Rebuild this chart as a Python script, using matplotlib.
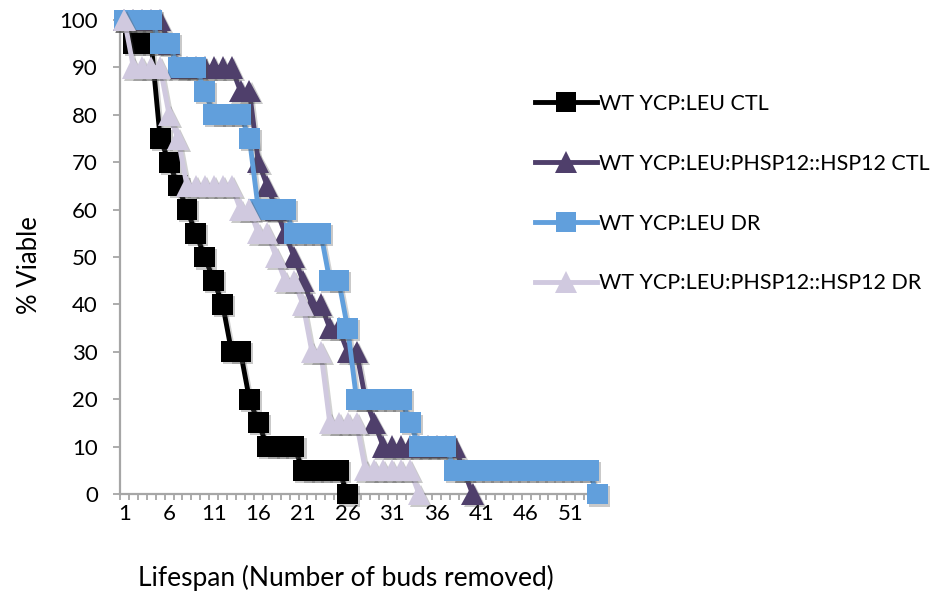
import matplotlib.pyplot as plt
import matplotlib.patheffects as pe
from matplotlib.lines import Line2D
import numpy as np

plt.rcParams['font.family'] = ['Lato', 'DejaVu Sans']

# % viable cells per bud count (one value per category, series end where they hit 0)
wt_ctl = [100, 95, 95, 95, 75, 70, 65, 60, 55, 50, 45, 40, 30, 30, 20, 15, 10, 10, 10, 10,
          5, 5, 5, 5, 5, 0]
hsp12_ctl = [100, 100, 100, 100, 100, 95, 90, 90, 90, 90, 90, 90, 90, 85, 85, 70, 65, 60, 55, 50,
             45, 40, 40, 35, 35, 30, 30, 20, 15, 10, 10, 10, 10, 10, 10, 10, 10, 10, 5, 0]
wt_dr = [100, 100, 100, 100, 95, 95, 90, 90, 90, 85, 80, 80, 80, 80, 75, 60, 60, 60, 60, 55,
         55, 55, 55, 45, 45, 35, 20, 20, 20, 20, 20, 20, 15, 10, 10, 10, 10, 5, 5, 5,
         5, 5, 5, 5, 5, 5, 5, 5, 5, 5, 5, 5, 5, 0]
hsp12_dr = [100, 90, 90, 90, 90, 80, 75, 65, 65, 65, 65, 65, 65, 60, 60, 55, 55, 50, 45, 45,
            40, 30, 30, 15, 15, 15, 15, 5, 5, 5, 5, 5, 5, 0]

labels = ["WT YCP:LEU CTL", "WT YCP:LEU:PHSP12::HSP12 CTL",
          "WT YCP:LEU DR", "WT YCP:LEU:PHSP12::HSP12 DR"]
colors = ["#000000", "#4F3F6B", "#619FDC", "#D0C9DF"]
markers = ["s", "^", "s", "^"]
n_cat = 54

fig = plt.figure(figsize=(9.51, 5.96), dpi=100)
ax = fig.add_axes([120 / 951, 1 - 494 / 596, 482 / 951, 474 / 596])

line_shadow = [pe.SimpleLineShadow(offset=(1.5, -1.5), shadow_color='0.3', alpha=0.25), pe.Normal()]
mark_shadow = [pe.SimplePatchShadow(offset=(1.5, -1.5), shadow_rgbFace='0.3', alpha=0.3), pe.Normal()]

handles = []
series = [wt_ctl, hsp12_ctl, wt_dr, hsp12_dr]
for i, (vals, c, m, lab) in enumerate(zip(series, colors, markers, labels)):
    x = np.arange(1, len(vals) + 1)
    ms = 15 if m == "s" else 16
    ax.plot(x, vals, color=c, lw=3.5, zorder=2 + 2 * i, clip_on=False,
            path_effects=line_shadow, solid_joinstyle='miter')
    ax.plot(x, vals, ls='none', marker=m, ms=ms, mfc=c, mec=c, mew=0,
            zorder=3 + 2 * i, clip_on=False, path_effects=mark_shadow)
    handles.append(Line2D([], [], color=c, lw=3.5, marker=m, ms=ms, mfc=c, mec=c, mew=0))

ax.set_xlim(0.5, n_cat + 0.5)
ax.set_ylim(0, 100)

ax.set_xticks(np.arange(1, 52, 5))
ax.set_xticks(np.arange(0.5, n_cat + 1, 1), minor=True)
ax.set_yticks(np.arange(0, 101, 10))

axis_gray = "#A6A6A6"
for s in ['top', 'right']:
    ax.spines[s].set_visible(False)
for s in ['left', 'bottom']:
    ax.spines[s].set_color(axis_gray)
    ax.spines[s].set_linewidth(1.6)

ax.tick_params(axis='x', which='major', length=0, pad=7, labelsize=16)
ax.tick_params(axis='x', which='minor', length=4.5, width=1.3, color=axis_gray, direction='out')
ax.tick_params(axis='y', length=5, width=1.3, color=axis_gray, direction='out', pad=11, labelsize=16)

ax.set_xlabel("Lifespan (Number of buds removed)", fontsize=19)
ax.xaxis.set_label_coords(0.469, -0.177)
ax.xaxis.label.set_va('center')
ax.set_ylabel("% Viable", fontsize=18.5)
ax.yaxis.set_label_coords(-0.187, 0.483)
ax.yaxis.label.set_va('center')

fig.legend(handles, labels, loc='upper left', bbox_to_anchor=(535 / 951, 1 - 94 / 596),
           frameon=False, fontsize=15.5, handlelength=2.9, handletextpad=0.05,
           labelspacing=1.85, borderpad=0, borderaxespad=0, numpoints=1)

fig.savefig("out.png", dpi=100, facecolor='white')
